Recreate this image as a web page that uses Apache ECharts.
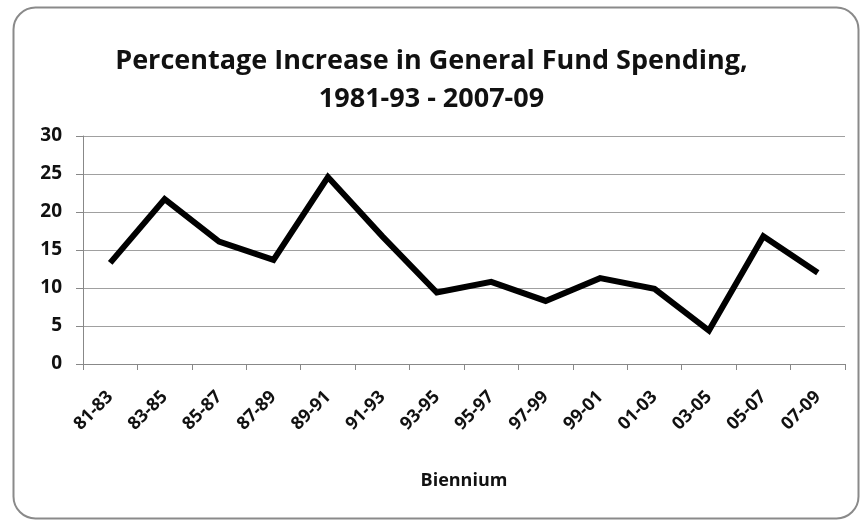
<!DOCTYPE html>
<html><head><meta charset="utf-8">
<script src="https://cdn.jsdelivr.net/npm/echarts@6/dist/echarts.min.js"></script>
<style>html,body{margin:0;padding:0;background:#fff;}#c{width:863px;height:520px;}</style>
</head><body><div id="c"></div>
<script>
const categories = ['81-83','83-85','85-87','87-89','89-91','91-93','93-95','95-97','97-99','99-01','01-03','03-05','05-07','07-09'];
const values = [13.3, 21.7, 16.1, 13.7, 24.6, 16.8, 9.4, 10.8, 8.3, 11.3, 9.9, 4.4, 16.8, 12.0];
const titleLines = ['Percentage Increase in General Fund Spending,', '1981-93 - 2007-09'];
const xName = 'Biennium';

const chart = echarts.init(document.getElementById('c'));
const font = 'Open Sans';
chart.setOption({
  animation: false,
  backgroundColor: '#fff',
  graphic: [{
    type: 'rect', left: 11, top: 5,
    shape: { width: 845, height: 511, r: 22 },
    style: { fill: 'none', stroke: '#8a8a8a', lineWidth: 2 }
  }],
  title: {
    text: titleLines.join('\n'),
    left: 'center', top: 37,
    textStyle: { fontFamily: font, fontSize: 27, fontWeight: 'bold', color: '#111', lineHeight: 38 }
  },
  grid: { left: 83, right: 18, top: 136, bottom: 156, containLabel: false },
  xAxis: {
    type: 'category', data: categories, boundaryGap: true,
    name: xName, nameLocation: 'middle', nameGap: 108,
    nameTextStyle: { fontFamily: font, fontSize: 18, fontWeight: 'bold', color: '#111' },
    axisLine: { lineStyle: { color: '#888', width: 1 } },
    axisTick: { show: true, length: 6, alignWithLabel: false, lineStyle: { color: '#888' } },
    axisLabel: { rotate: 45, margin: 30, fontFamily: font, fontSize: 18, fontWeight: 'bold', color: '#111' },
    splitLine: { show: false }
  },
  yAxis: {
    type: 'value', min: 0, max: 30, interval: 5,
    axisLine: { show: true, lineStyle: { color: '#888', width: 1 } },
    axisTick: { show: true, length: 7, lineStyle: { color: '#888' } },
    axisLabel: { margin: 21, fontFamily: font, fontSize: 19, fontWeight: 'bold', color: '#111' },
    splitLine: { lineStyle: { color: '#a0a0a0', width: 1 } }
  },
  series: [{
    type: 'line', data: values, showSymbol: false, symbol: 'none',
    lineStyle: { color: '#000', width: 6, join: 'miter' },
    itemStyle: { color: '#000' }
  }]
});
</script></body></html>
